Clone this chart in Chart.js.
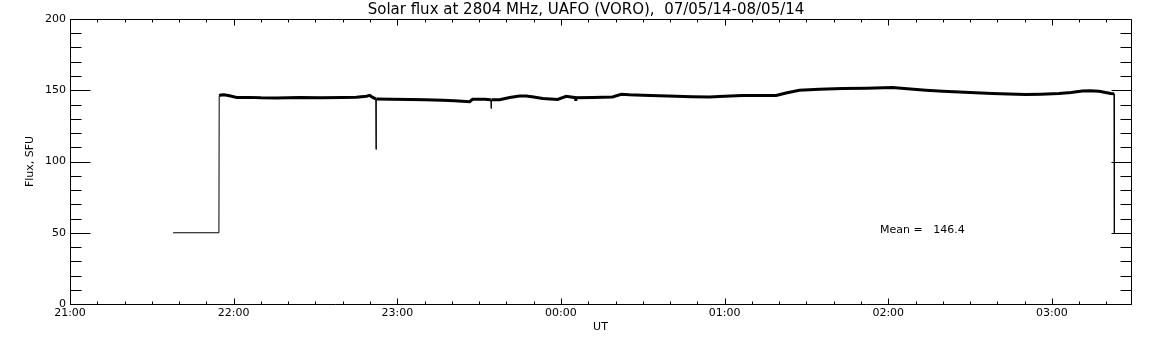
<!DOCTYPE html>
<html>
<head>
<meta charset="utf-8">
<script src="https://cdn.jsdelivr.net/npm/chart.js@4.4.1/dist/chart.umd.min.js"></script>
<style>
  html, body { margin: 0; padding: 0; background: #fff; }
  canvas { display: block; }
</style>
</head>
<body>
<canvas id="c" width="1152" height="345"></canvas>
<script>
// ---- Data (time in minutes after 21:00 UT, flux in SFU) ----
const timeMin = [
  37.8, 54.6, 54.7, 55.3, 56.5, 58.5, 61.1, 65.9, 70.0, 75.7,
  84.2, 92.0, 100.0, 105.0, 108.7, 109.9, 111.0, 112.1, 112.2, 112.3,
  118.0, 124.5, 130.0, 136.6, 141.0, 145.3, 146.5, 147.6, 152.0, 154.3,
  154.4, 154.5, 157.5, 161.2, 164.8, 167.3, 170.0, 173.3, 178.8, 181.9,
  185.3, 185.4, 185.5, 191.6, 198.9, 202.1, 205.0, 209.9, 216.0, 222.2,
  228.0, 234.4, 240.0, 246.5, 252.0, 258.9, 262.5, 267.4, 274.7, 283.2,
  292.0, 301.5, 307.0, 313.8, 320.0, 326.0, 332.0, 338.1, 344.0, 350.4,
  356.0, 362.6, 367.0, 371.1, 374.0, 377.3, 381.6, 382.8, 382.9
];
const fluxSFU = [
  50, 50, 146.2, 146.6, 146.8, 146.1, 145.0, 145.0, 144.7, 144.6,
  144.9, 144.8, 144.9, 145.1, 145.8, 146.4, 145.0, 143.9, 108.5, 143.9,
  143.7, 143.5, 143.3, 143.0, 142.6, 142.1, 142.0, 143.7, 143.6, 143.4,
  137.2, 143.4, 143.3, 144.9, 146.0, 146.0, 145.2, 144.2, 143.5, 145.8,
  144.8, 142.5, 144.8, 144.9, 145.3, 147.2, 146.8, 146.5, 146.1, 145.8,
  145.5, 145.3, 145.8, 146.3, 146.3, 146.3, 148.1, 150.0, 150.7, 151.2,
  151.4, 151.9, 151.0, 150.0, 149.3, 148.8, 148.2, 147.7, 147.3, 147.0,
  147.2, 147.7, 148.5, 149.5, 149.6, 149.3, 147.7, 147.5, 50
];

// ---- Axes / text ----
const xTickMinutes = [0, 60, 120, 180, 240, 300, 360];
const xTickLabels = ['21:00', '22:00', '23:00', '00:00', '01:00', '02:00', '03:00'];
const xMinorStep = 10;
const xMin = 0, xMax = 389;
const yTickValues = [0, 50, 100, 150, 200];
const yMinorStep = 10;
const yMin = 0, yMax = 200;
const titleText = 'Solar flux at 2804 MHz, UAFO (VORO),  07/05/14-08/05/14';
const xTitle = 'UT';
const yTitle = 'Flux, SFU';
const meanValue = 146.4;

const FONT = '"DejaVu Sans", sans-serif';

const framePlugin = {
  id: 'idlFrame',
  afterDraw(chart) {
    const ctx = chart.ctx;
    const a = chart.chartArea;
    const xs = chart.scales.x, ys = chart.scales.y;
    const L = Math.round(a.left) + 0.5, R = Math.round(a.right) + 0.5;
    const T = Math.round(a.top) + 0.5, B = Math.round(a.bottom) + 0.5;
    ctx.save();
    ctx.strokeStyle = '#000';
    ctx.lineWidth = 1;
    ctx.beginPath();
    ctx.rect(L, T, R - L, B - T);
    // x ticks (inward, top and bottom)
    for (let m = xMin; m <= xMax; m += xMinorStep) {
      const px = Math.round(xs.getPixelForValue(m)) + 0.5;
      const len = (m % 60 === 0) ? 6 : 3;
      ctx.moveTo(px, B); ctx.lineTo(px, B - len);
      ctx.moveTo(px, T); ctx.lineTo(px, T + len);
    }
    // y ticks (inward, left and right)
    for (let v = yMin; v <= yMax; v += yMinorStep) {
      const py = Math.round(ys.getPixelForValue(v)) + 0.5;
      const len = (v % 50 === 0) ? 20 : 11;
      ctx.moveTo(L, py); ctx.lineTo(L + len, py);
      ctx.moveTo(R, py); ctx.lineTo(R - len, py);
    }
    ctx.stroke();

    ctx.fillStyle = '#000';
    // title
    ctx.font = '15px ' + FONT;
    ctx.textAlign = 'center';
    ctx.textBaseline = 'alphabetic';
    ctx.fillText(titleText, 586, 14);
    // mean label
    ctx.font = '11px ' + FONT;
    ctx.textAlign = 'left';
    ctx.fillText('Mean =   ' + meanValue.toFixed(1), 880, 233);
    ctx.restore();
  }
};

const points = timeMin.map((t, i) => ({ x: t, y: fluxSFU[i] }));

new Chart(document.getElementById('c'), {
  type: 'line',
  data: {
    datasets: [{
      data: points,
      borderColor: '#000',
      borderWidth: 3,
      pointRadius: 0,
      tension: 0,
      fill: false,
      segment: {
        borderWidth: (c) => {
          const y0 = c.p0.parsed.y, y1 = c.p1.parsed.y;
          if (Math.abs(y1 - y0) > 3 || (y0 <= 60 && y1 <= 60)) return 1;
          return 3;
        }
      }
    }]
  },
  options: {
    responsive: false,
    animation: false,
    devicePixelRatio: 1,
    layout: { padding: { left: 0, right: 21, top: 19, bottom: 0 } },
    plugins: { legend: { display: false }, tooltip: { enabled: false }, title: { display: false } },
    scales: {
      x: {
        type: 'linear',
        min: xMin, max: xMax,
        grid: { display: false, drawTicks: false },
        border: { display: false },
        afterBuildTicks: (s) => { s.ticks = xTickMinutes.map(v => ({ value: v })); },
        afterFit: (s) => { s.height = 41; },
        ticks: {
          color: '#000', font: { family: FONT, size: 11 }, padding: 3,
          maxRotation: 0, autoSkip: false,
          callback: (v) => { const i = xTickMinutes.indexOf(v); return i >= 0 ? xTickLabels[i] : ''; }
        },
        title: { display: true, text: xTitle, color: '#000', font: { family: FONT, size: 11 }, padding: { top: 0, bottom: 11 } }
      },
      y: {
        type: 'linear',
        min: yMin, max: yMax,
        grid: { display: false, drawTicks: false },
        border: { display: false },
        afterBuildTicks: (s) => { s.ticks = yTickValues.map(v => ({ value: v })); },
        afterFit: (s) => { s.width = 70; },
        ticks: { color: '#000', font: { family: FONT, size: 11 }, padding: 4 },
        title: { display: true, text: yTitle, color: '#000', font: { family: FONT, size: 11 }, padding: { top: 24, bottom: 0 } }
      }
    }
  },
  plugins: [framePlugin]
});
</script>
</body>
</html>
